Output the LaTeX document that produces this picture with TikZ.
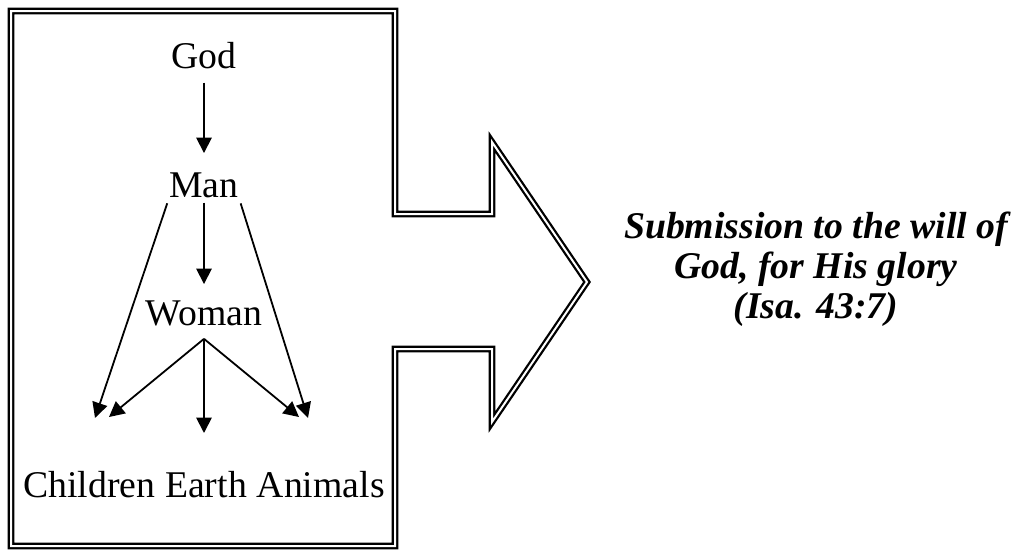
\documentclass[tikz,border=0pt]{standalone}
\usepackage{fontspec}
\setmainfont{Liberation Serif}
\usetikzlibrary{arrows.meta,positioning}
\tikzset{
	lbl/.style={inner sep=0pt, anchor=base, font=\fontsize{28.3}{30}\selectfont},
	quote/.style={inner sep=0pt, align=center, font=\fontsize{28.3}{30}\selectfont\bfseries\itshape},
	link/.style={-{Triangle[length=11.5pt,width=11.5pt]}, line width=1.35pt},
	frame/.style={draw, double, line width=1.7pt, double distance=1.5pt}
}

\begin{document}
\begin{tikzpicture}[x=0.75pt,y=-0.75pt]
	\useasboundingbox (0,0) rectangle (1016,550);
	
	% Draw the box and the block arrow
	\draw[frame] (11,11) -- (395,11) -- (395,214) -- (492,214) -- (492,142) -- (587,282)
		-- (492,422) -- (492,349) -- (395,349) -- (395,546) -- (11,546) -- cycle;
	
	% Label the names
	\node[lbl] (god) at (204,68) {God};
	\node[lbl] (man) at (204,197) {Man};
	\node[lbl] (woman) at (204,325) {Woman};
	\node[lbl] (earth) at (206,497) {Earth};
	\node[lbl, base left=7.07pt of earth] (children) {Children};
	\node[lbl, base right=7.07pt of earth] (animals) {Animals};
	
	% Ends of the arrows
	\coordinate (fan) at ([yshift=-9.75pt]woman.south);
	\coordinate (tipA) at (95,418);
	\coordinate (tipB) at (109,417);
	\coordinate (tipC) at (204,433);
	\coordinate (tipD) at (299,417);
	\coordinate (tipE) at (308,418);
	
	% Draw the arrows
	\draw[link, shorten <=10.5pt, shorten >=14.25pt] (god) -- (man);
	\draw[link, shorten <=3.75pt, shorten >=12pt] (man) -- (woman);
	\draw[link, shorten <=4.5pt] (man.south west) -- (tipA);
	\draw[link, shorten <=4.5pt] (man.south east) -- (tipE);
	\draw[link] (fan) -- (tipB);
	\draw[link] (fan) -- (tipC);
	\draw[link] (fan) -- (tipD);
	
	% The text at the point of the arrow
	\node[quote] (will) at (816,269) {Submission to the will of\\God, for His glory\\(Isa. 43:7)};
\end{tikzpicture}
\end{document}
